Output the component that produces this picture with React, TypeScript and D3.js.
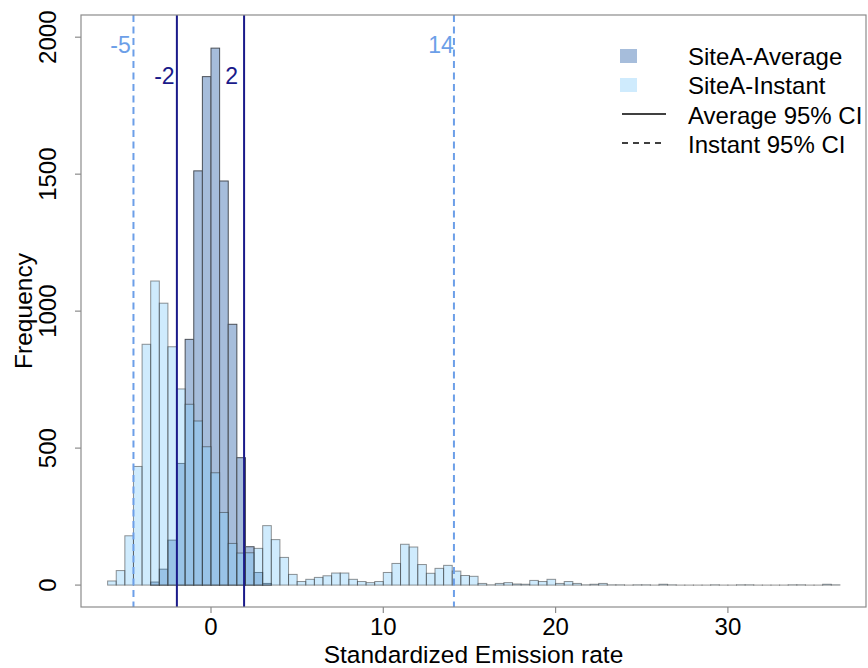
import React from "react";
import * as d3 from "d3";

// histogram counts, bins of 0.5 starting at -6 (instant) and -3.5 (average)
const binWidth = 0.5;
const instantStart = -6;
const instantCounts = [
  15, 53, 180, 433, 879, 1110, 1029, 870, 716, 660, 599, 505, 410, 265, 152, 117,
  118, 134, 217, 166, 101, 39, 13, 21, 28, 34, 44, 44, 21, 13, 9, 13, 46, 79, 149,
  139, 75, 43, 61, 72, 51, 35, 32, 6, 1, 6, 9, 4, 3, 17, 13, 21, 6, 13, 6, 1, 3, 6,
  1, 1, 0, 1, 1, 0, 3, 1, 0, 0, 0, 0, 1, 0, 0, 1, 1, 0, 0, 0, 0, 1, 1, 0, 0, 3, 1
];
const averageStart = -3.5;
const averageCounts = [11, 58, 164, 444, 897, 1512, 1856, 1960, 1475, 952, 465, 140, 46, 6];

const averageCI = [-1.98, 1.92];
const averageCILabels = ["-2", "2"];
const instantCI = [-4.5, 14.1];
const instantCILabels = ["-5", "14"];

const xTicks = [0, 10, 20, 30];
const yTicks = [0, 500, 1000, 1500, 2000];

const legendItems = ["SiteA-Average", "SiteA-Instant", "Average 95% CI", "Instant 95% CI"];

const W = 868;
const H = 668;
const plot = { left: 81, right: 866, top: 15, bottom: 607 };
const font = "'Liberation Sans', Arial, sans-serif";

const avgFill = "#a6bddb";
const instFill = "#87cefa";
const navy = "#1a1a8a";
const cornflower = "#6c9fe8";

const App = () => {
  const x = d3.scaleLinear().domain([-7.545, 38.015]).range([plot.left, plot.right]);
  const y = d3.scaleLinear().domain([-80, 2081]).range([plot.bottom, plot.top]);

  const bar = (start: number, i: number, v: number) => {
    const x0 = x(start + i * binWidth);
    const x1 = x(start + (i + 1) * binWidth);
    return { x: x0, w: x1 - x0, y: y(v), h: Math.max(y(0) - y(v), 0.01) };
  };

  return (
    <svg
      width={W}
      height={H}
      style={{ position: "absolute", left: 0, top: 0, background: "#fff" }}
      fontFamily={font}
    >
      {/* average histogram */}
      <g>
        {averageCounts.map((v, i) => {
          const b = bar(averageStart, i, v);
          return (
            <rect key={i} x={b.x} y={b.y} width={b.w} height={b.h}
              fill={avgFill} stroke="#4a4f57" strokeWidth={1} />
          );
        })}
      </g>
      {/* instant histogram, semi-transparent */}
      <g>
        {instantCounts.map((v, i) => {
          const b = bar(instantStart, i, v);
          return (
            <rect key={i} x={b.x} y={b.y} width={b.w} height={b.h}
              fill={instFill} fillOpacity={0.4} stroke="#2b2b2b" strokeOpacity={0.5} strokeWidth={1} />
          );
        })}
      </g>

      {/* CI lines */}
      {averageCI.map((v, i) => (
        <g key={"a" + i}>
          <line x1={x(v)} x2={x(v)} y1={plot.top} y2={plot.bottom} stroke={navy} strokeWidth={2} />
          <text x={x(v) - 12.5} y={84} textAnchor="middle" fontSize={23} fill={navy}>
            {averageCILabels[i]}
          </text>
        </g>
      ))}
      {instantCI.map((v, i) => (
        <g key={"i" + i}>
          <line x1={x(v)} x2={x(v)} y1={plot.top} y2={plot.bottom} stroke={cornflower}
            strokeWidth={2} strokeDasharray="7,4.5" />
          <text x={x(v) - 13} y={53} textAnchor="middle" fontSize={23} fill={cornflower}>
            {instantCILabels[i]}
          </text>
        </g>
      ))}

      {/* box */}
      <rect x={plot.left} y={plot.top} width={plot.right - plot.left} height={plot.bottom - plot.top}
        fill="none" stroke="#8c8c8c" strokeWidth={1.2} />

      {/* x axis */}
      <g>
        {xTicks.map(t => (
          <g key={t}>
            <line x1={x(t)} x2={x(t)} y1={plot.bottom} y2={plot.bottom + 6} stroke="#8c8c8c" strokeWidth={1.2} />
            <text x={x(t)} y={635} textAnchor="middle" fontSize={24} fill="#000">{t}</text>
          </g>
        ))}
        <text x={(plot.left + plot.right) / 2} y={663} textAnchor="middle" fontSize={24.5} fill="#000">
          Standardized Emission rate
        </text>
      </g>

      {/* y axis */}
      <g>
        {yTicks.map(t => (
          <g key={t}>
            <line x1={plot.left - 6} x2={plot.left} y1={y(t)} y2={y(t)} stroke="#8c8c8c" strokeWidth={1.2} />
            <text transform={`translate(56,${y(t)}) rotate(-90)`} textAnchor="middle" fontSize={24} fill="#000">
              {t}
            </text>
          </g>
        ))}
        <text transform={`translate(32,${(plot.top + plot.bottom) / 2}) rotate(-90)`} textAnchor="middle"
          fontSize={24.5} fill="#000">
          Frequency
        </text>
      </g>

      {/* legend */}
      <g>
        <rect x={620} y={49} width={17} height={14} fill={avgFill} />
        <rect x={620} y={78} width={17} height={14} fill={instFill} fillOpacity={0.4} />
        <line x1={622} x2={666} y1={114} y2={114} stroke="#000" strokeWidth={1.3} />
        <line x1={622} x2={666} y1={143} y2={143} stroke="#000" strokeWidth={1.3} strokeDasharray="6,5" />
        {legendItems.map((s, i) => (
          <text key={s} x={688} y={65 + i * 29.3} fontSize={24} fill="#000">{s}</text>
        ))}
      </g>
    </svg>
  );
};

export default App;
